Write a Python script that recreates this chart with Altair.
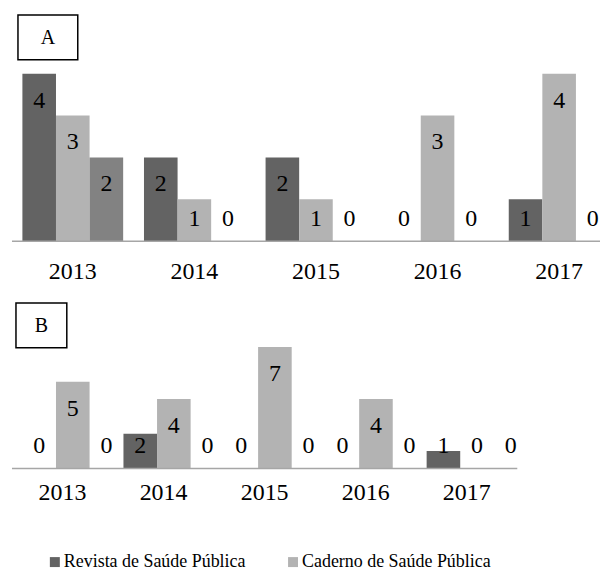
import altair as alt
import pandas as pd

years = ["2013", "2014", "2015", "2016", "2017"]
series = ["Revista de Saúde Pública", "Caderno de Saúde Pública", "Outros periódicos"]
colors = ["#636363", "#b3b3b3", "#828282"]
legend_items = ["Revista de Saúde Pública", "Caderno de Saúde Pública"]

a_rsp = [4, 2, 2, 0, 1]
a_csp = [3, 1, 1, 3, 4]
a_other = [2, 0, 0, 0, 0]

b_rsp = [0, 2, 0, 0, 1]
b_csp = [5, 4, 7, 4, 0]
b_other = [0, 0, 0, 0, 0]

FONT = "Liberation Serif"


def table(vals_list):
    rows = []
    for s, vals in zip(series, vals_list):
        for y, v in zip(years, vals):
            rows.append({"year": y, "series": s, "v": v})
    return pd.DataFrame(rows)


def panel(df, letter, width, height, ymax, thresh, bar_pad, label_pad, fs, bx):
    base = alt.Chart(df).encode(
        x=alt.X(
            "year:N",
            sort=years,
            scale=alt.Scale(paddingInner=0, paddingOuter=0),
            axis=alt.Axis(
                title=None, labelAngle=0, ticks=False, domain=False,
                labelFont=FONT, labelFontSize=fs,
                labelColor="black", labelPadding=label_pad, grid=False,
            ),
        ),
        xOffset=alt.XOffset(
            "series:N", sort=series,
            scale=alt.Scale(paddingInner=0, paddingOuter=bar_pad),
        ),
    )
    bars = base.mark_bar().encode(
        y=alt.Y("v:Q", scale=alt.Scale(domain=[0, ymax], nice=False, zero=True), axis=None),
        color=alt.Color(
            "series:N",
            scale=alt.Scale(domain=series, range=colors),
            legend=alt.Legend(
                values=legend_items, title=None, orient="none",
                legendX=34, legendY=540, direction="horizontal",
                symbolType="square", symbolSize=100, symbolStrokeWidth=0,
                labelFont=FONT, labelFontSize=18, labelColor="black",
                columnPadding=38, labelOffset=0, labelLimit=400,
            ),
        ),
    )
    tall = base.mark_text(font=FONT, fontSize=fs, baseline="middle", dy=27, color="black").encode(
        y=alt.Y("v:Q"), text="v:Q"
    ).transform_filter(f"datum.v >= {thresh}")
    short = base.mark_text(font=FONT, fontSize=fs, baseline="middle", dy=-22, color="black").encode(
        y=alt.Y("zero:Q"), text="v:Q"
    ).transform_calculate(zero="0").transform_filter(f"datum.v < {thresh}")

    box_df = pd.DataFrame({"label": [letter]})
    baseline = alt.Chart(box_df).mark_rule(color="#a6a6a6", strokeWidth=1.5).encode(
        x=alt.value(0), x2=alt.value(width), y=alt.value(height)
    )
    box = alt.Chart(box_df).mark_rect(fill="white", stroke="black", strokeWidth=1.5).encode(
        x=alt.value(bx[0]), x2=alt.value(bx[1]), y=alt.value(0), y2=alt.value(45)
    )
    box_text = alt.Chart(box_df).mark_text(font=FONT, fontSize=20, color="black").encode(
        x=alt.value((bx[0] + bx[1]) / 2), y=alt.value(23), text="label:N"
    )
    return alt.layer(bars, tall, short, baseline, box, box_text).properties(width=width, height=height)


pa = panel(table([a_rsp, a_csp, a_other]), "A", 610, 227, 227 / 42, 2, 0.31, 18, 24, (6, 66))
pb = panel(table([b_rsp, b_csp, b_other]), "B", 507, 166, 166 / 17.4, 3, 0.32, 12, 24, (4, 55))

chart = alt.vconcat(pa, pb, spacing=19).properties(
    padding={"left": 3, "top": 5, "right": -21, "bottom": 0},
    background="white",
).configure_view(stroke="transparent", strokeWidth=0)

chart.save("out.html", embed_options={"renderer": "svg", "actions": False})
